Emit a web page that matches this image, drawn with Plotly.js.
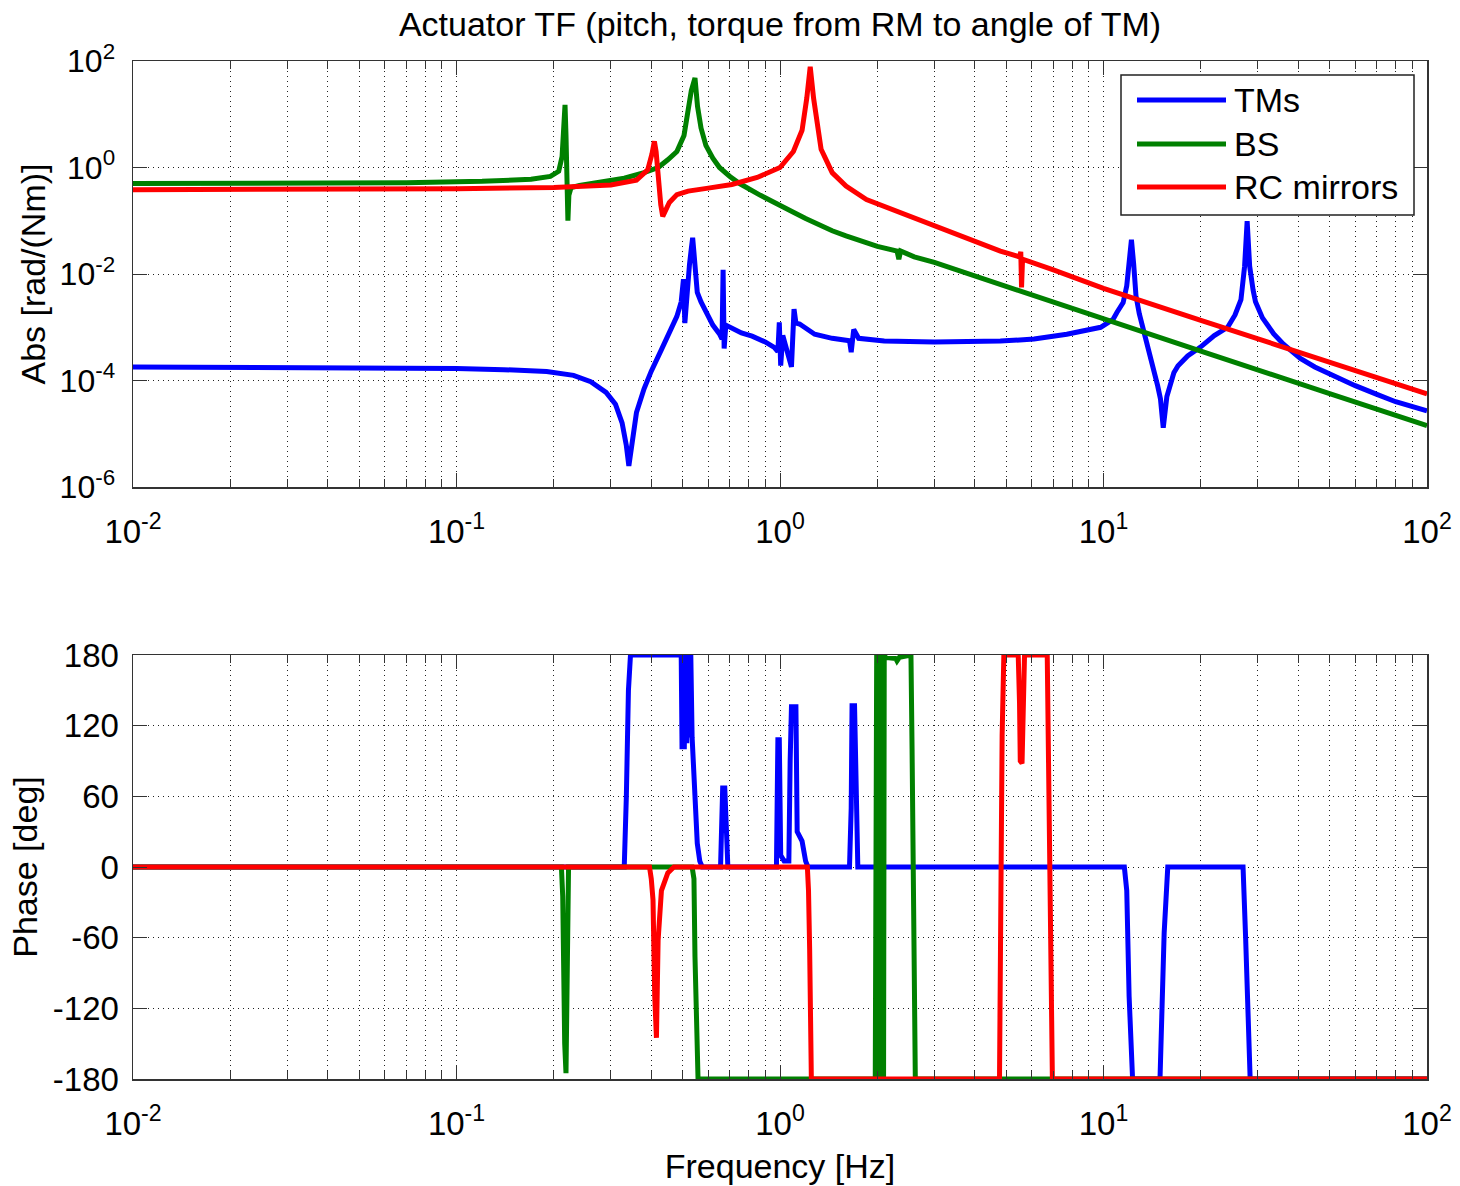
<!DOCTYPE html>
<html>
<head>
<meta charset="utf-8">
<script src="https://cdn.plot.ly/plotly-3.0.1.min.js"></script>
<style>html,body{margin:0;padding:0;background:#fff;}#chart{width:1460px;height:1186px;}</style>
</head>
<body>
<div id="chart"></div>
<script>
// ---------------- data ----------------
const seriesNames = ['TMs', 'BS', 'RC mirrors'];
const seriesColors = ['#0000FF', '#008000', '#FF0000'];

// TMs magnitude
const tmFreq = [0.01,0.02,0.04,0.07,0.1,0.14,0.19,0.23,0.26,0.29,0.31,0.325,0.335,0.341,0.347,0.36,0.38,0.40,0.43,0.46,0.48,0.495,0.503,0.508,0.515,0.525,0.532,0.537,0.542,0.548,0.555,0.57,0.59,0.62,0.65,0.662,0.667,0.672,0.68,0.71,0.76,0.82,0.90,0.96,0.985,0.995,1.005,1.02,1.06,1.085,1.105,1.12,1.15,1.19,1.28,1.45,1.64,1.66,1.69,1.75,2.1,3.0,4.8,6.1,7.7,9.8,10.2,10.7,11.0,11.5,11.8,12.0,12.2,12.4,12.6,12.9,13.3,13.8,14.3,14.7,15.0,15.3,15.7,16.5,17.0,18.2,19.9,22,24.2,25.5,26.6,27.3,27.8,28.3,29.0,29.5,31,33.6,36,40.6,45,51.7,60,70,80,100];
const tmAbs = [1.80e-4,1.79e-4,1.77e-4,1.73e-4,1.68e-4,1.60e-4,1.48e-4,1.25e-4,9.5e-5,6.0e-5,3.6e-5,1.6e-5,6e-6,2.5e-6,6e-6,2.5e-5,7e-5,1.5e-4,3.8e-4,9e-4,1.6e-3,3.0e-3,8e-3,1.2e-3,5e-3,1.5e-2,3e-2,4.8e-2,2.5e-2,8e-3,4.5e-3,3e-3,1.9e-3,1.1e-3,7.5e-4,6e-4,1.2e-2,4e-4,1.1e-3,9.5e-4,7.8e-4,6.8e-4,5.3e-4,4.2e-4,3.5e-4,1.24e-3,1.9e-4,7e-4,3e-4,1.8e-4,2.2e-3,1.2e-3,1.15e-3,1.0e-3,7.4e-4,6.2e-4,5.6e-4,3.4e-4,9.1e-4,6.2e-4,5.5e-4,5.3e-4,5.5e-4,6e-4,7.4e-4,1.0e-3,1.15e-3,1.4e-3,1.9e-3,2.9e-3,6e-3,1.4e-2,4.4e-2,1.5e-2,3.9e-3,1.8e-3,9.1e-4,3.5e-4,1.7e-4,8e-5,4.5e-5,1.3e-5,5e-5,1.4e-4,1.9e-4,2.9e-4,4.2e-4,7e-4,1.0e-3,1.7e-3,3.3e-3,1.4e-2,9.8e-2,1.4e-2,5e-3,3.0e-3,1.5e-3,7.5e-4,4.8e-4,2.6e-4,1.8e-4,1.2e-4,8e-5,5.5e-5,4e-5,2.7e-5];
// TMs phase
const tmPhaseFreq = [0.01,0.33,0.335,0.34,0.345,0.495,0.498,0.502,0.506,0.51,0.515,0.52,0.525,0.53,0.535,0.54,0.548,0.555,0.565,0.575,0.655,0.66,0.665,0.675,0.68,0.685,0.69,0.975,0.98,0.985,0.995,1.0,1.005,1.03,1.065,1.075,1.085,1.12,1.13,1.17,1.2,1.22,1.64,1.66,1.67,1.70,1.72,1.74,11.6,11.8,12.0,12.2,12.3,14.95,15.1,15.4,15.8,27.0,27.5,28.0,28.4,100];
const tmPhase = [0,0,60,150,180,180,100,180,100,180,105,180,110,180,110,90,40,20,5,0,0,40,67,67,30,5,0,0,50,108,108,50,10,5,5,90,136,136,30,22,5,0,0,50,137,137,40,0,0,-20,-110,-170,-180,-180,-144,-56,0,0,-60,-150,-180,-180];

// BS magnitude
const bsFreq = [0.01,0.03,0.07,0.12,0.17,0.195,0.207,0.212,0.2145,0.2165,0.218,0.2195,0.221,0.2225,0.226,0.24,0.28,0.33,0.38,0.42,0.45,0.48,0.505,0.522,0.532,0.546,0.556,0.57,0.59,0.62,0.65,0.70,0.75,0.87,1.0,1.1,1.2,1.32,1.45,1.6,1.8,2.0,2.3,2.33,2.36,2.6,3.0,4.8,7,10,20,50,100];
const bsAbs = [0.50,0.505,0.52,0.55,0.60,0.68,0.85,1.6,6,15,4,0.5,0.1,0.3,0.42,0.46,0.53,0.63,0.80,1.0,1.4,2.0,4,12,28,48,14,5.5,2.6,1.5,1.0,0.68,0.50,0.30,0.20,0.145,0.11,0.083,0.065,0.052,0.040,0.033,0.027,0.019,0.027,0.021,0.0165,0.0063,0.0029,0.00142,3.55e-4,5.7e-5,1.42e-5];
// BS phase
const bsPhaseFreq = [0.01,0.211,0.213,0.2145,0.216,0.218,0.2195,0.221,0.222,0.535,0.542,0.546,0.552,0.558,1.97,1.975,1.98,1.99,1.995,2.0,2.01,2.02,2.03,2.04,2.05,2.06,2.07,2.08,2.09,2.10,2.12,2.28,2.3,2.34,2.54,2.56,2.59,2.62,100];
const bsPhase = [0,0,-25,-100,-150,-175,-120,-30,0,0,-10,-76,-160,-180,-180,180,-180,180,-180,180,-180,180,-180,180,-180,180,-180,180,-180,180,178,177,175,178,180,100,-80,-180,-180];

// RC mirrors magnitude
const rcFreq = [0.01,0.05,0.1,0.2,0.3,0.36,0.39,0.402,0.409,0.414,0.42,0.428,0.434,0.44,0.455,0.48,0.52,0.6,0.71,0.85,1.0,1.1,1.17,1.21,1.24,1.27,1.30,1.34,1.45,1.6,1.85,2.35,3.5,4.8,5.5,5.55,5.58,5.62,7,10,20,50,100];
const rcAbs = [0.384,0.39,0.40,0.42,0.47,0.58,0.9,1.8,3.1,2.0,0.6,0.2,0.121,0.14,0.22,0.31,0.36,0.41,0.48,0.65,1.0,2.0,5,20,78,20,7.8,2.2,0.8,0.45,0.25,0.143,0.055,0.027,0.021,0.026,0.0056,0.019,0.012,5.4e-3,1.35e-3,2.2e-4,5.6e-5];
// RC mirrors phase
const rcPhaseFreq = [0.01,0.395,0.40,0.405,0.41,0.415,0.42,0.43,0.45,0.47,1.215,1.225,1.235,1.245,1.25,4.77,4.80,4.86,4.92,5.45,5.5,5.53,5.6,5.65,5.68,5.7,6.7,6.75,6.85,6.95,100];
const rcPhase = [0,0,-10,-28,-110,-145,-62,-20,-5,0,0,-20,-70,-160,-180,-180,-68,112,180,180,140,90,88,150,175,180,180,112,-68,-180,-180];

// axis ticks
const freqTickVals = [0.01,0.1,1,10,100];
const freqTickText = ['10<sup>-2</sup>','10<sup>-1</sup>','10<sup>0</sup>','10<sup>1</sup>','10<sup>2</sup>'];
const absTickVals = [1e-6,1e-4,1e-2,1,100];
const absTickText = ['10<sup>-6</sup>','10<sup>-4</sup>','10<sup>-2</sup>','10<sup>0</sup>','10<sup>2</sup>'];
const phaseTickVals = [-180,-120,-60,0,60,120,180];
const phaseTickText = ['-180','-120','-60','0','60','120','180'];

// ---------------- chart ----------------
const FONT = '"Liberation Sans", Arial, Helvetica, sans-serif';
const magF = [tmFreq, bsFreq, rcFreq];
const magV = [tmAbs, bsAbs, rcAbs];
const phF = [tmPhaseFreq, bsPhaseFreq, rcPhaseFreq];
const phV = [tmPhase, bsPhase, rcPhase];

const traces = [];
for (let i = 0; i < 3; i++) {
  traces.push({x: magF[i], y: magV[i], type: 'scatter', mode: 'lines', name: seriesNames[i],
    line: {color: seriesColors[i], width: 5}, xaxis: 'x', yaxis: 'y', showlegend: false});
}
for (let i = 0; i < 3; i++) {
  traces.push({x: phF[i], y: phV[i], type: 'scatter', mode: 'lines', name: seriesNames[i],
    line: {color: seriesColors[i], width: 5}, xaxis: 'x2', yaxis: 'y2', showlegend: false});
}

const gridCol = '#222';
const axCol = '#333';
const minorX = {dtick: 'D1', showgrid: true, griddash: '1px,4px', gridcolor: gridCol, gridwidth: 1,
  ticks: 'inside', ticklen: 8, tickcolor: axCol, tickwidth: 1};
function xAxis(anchor) {
  return {type: 'log', range: [-2, 2], anchor: anchor, tickmode: 'array', tickvals: freqTickVals, ticktext: freqTickText,
    ticks: 'inside', ticklen: 14, tickcolor: axCol, tickwidth: 1, showline: true, linecolor: axCol, linewidth: 1.5, mirror: 'allticks',
    showgrid: true, griddash: '1px,4px', gridcolor: gridCol, gridwidth: 1, zeroline: false, minor: minorX,
    tickfont: {family: FONT, size: 33, color: '#000'}, ticklabelstandoff: 15};
}

// legend (drawn in paper coordinates)
const L = 133, W = 1294, B = 1079, H = 1018;
const px = v => (v - L) / W;
const py = v => (B - v) / H;
const shapes = [{type: 'rect', xref: 'paper', yref: 'paper', x0: px(1121), x1: px(1414), y0: py(215), y1: py(75),
  line: {color: '#222', width: 1.5}, fillcolor: '#fff', layer: 'above'}];
const annotations = [];
const legRows = [100, 144, 187];
for (let i = 0; i < 3; i++) {
  shapes.push({type: 'line', xref: 'paper', yref: 'paper', x0: px(1137), x1: px(1226), y0: py(legRows[i]), y1: py(legRows[i]),
    line: {color: seriesColors[i], width: 5}, layer: 'above'});
  annotations.push({xref: 'paper', yref: 'paper', x: px(1232), y: py(legRows[i]), xanchor: 'left', yanchor: 'middle',
    text: seriesNames[i], showarrow: false, font: {family: FONT, size: 34, color: '#000'}});
}

const layout = {
  width: 1460, height: 1186,
  margin: {l: 133, r: 33, t: 61, b: 107},
  paper_bgcolor: '#fff', plot_bgcolor: '#fff',
  font: {family: FONT, color: '#000'},
  title: {text: 'Actuator TF (pitch, torque from RM to angle of TM)', font: {family: FONT, size: 34, color: '#000'},
    x: 0.5, xref: 'paper', xanchor: 'center', y: 1 - 24 / 1186, yanchor: 'middle'},
  showlegend: false,
  xaxis: xAxis('y'),
  xaxis2: Object.assign(xAxis('y2'), {title: {text: 'Frequency [Hz]', font: {family: FONT, size: 34, color: '#000'}, standoff: 13}}),
  yaxis: {type: 'log', range: [-6, 2], domain: [0.5815, 1], anchor: 'x', tickmode: 'array', tickvals: absTickVals, ticktext: absTickText,
    ticks: 'inside', ticklen: 14, tickcolor: axCol, tickwidth: 1, showline: true, linecolor: axCol, linewidth: 1.5, mirror: 'ticks',
    showgrid: true, griddash: '1px,4px', gridcolor: gridCol, gridwidth: 1, zeroline: false,
    tickfont: {family: FONT, size: 32, color: '#000'}, ticklabelstandoff: 10,
    title: {text: 'Abs [rad/(Nm)]', font: {family: FONT, size: 34, color: '#000'}, standoff: 3}},
  yaxis2: {range: [-180, 180], domain: [0, 0.4165], anchor: 'x2', tickmode: 'array', tickvals: phaseTickVals, ticktext: phaseTickText,
    ticks: 'inside', ticklen: 14, tickcolor: axCol, tickwidth: 1, showline: true, linecolor: axCol, linewidth: 1.5, mirror: 'ticks',
    showgrid: true, griddash: '1px,4px', gridcolor: gridCol, gridwidth: 1, zeroline: false,
    tickfont: {family: FONT, size: 33, color: '#000'}, ticklabelstandoff: 6,
    title: {text: 'Phase [deg]', font: {family: FONT, size: 34, color: '#000'}, standoff: 5}},
  shapes: shapes,
  annotations: annotations
};

Plotly.newPlot('chart', traces, layout, {displayModeBar: false, staticPlot: true});
</script>
</body>
</html>
